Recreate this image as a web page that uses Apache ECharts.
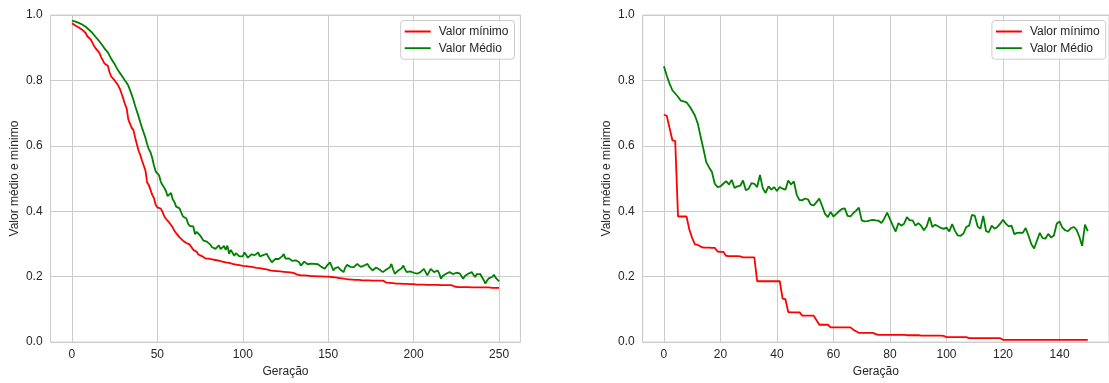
<!DOCTYPE html>
<html>
<head>
<meta charset="utf-8">
<script src="https://cdn.jsdelivr.net/npm/echarts@6/dist/echarts.min.js"></script>
<style>
  html, body { margin: 0; padding: 0; background: #ffffff; }
  #chart { width: 1109px; height: 383px; }
</style>
</head>
<body>
<div id="chart"></div>
<script>
// Run 1: 251 generations (0..250)
const minRun1 = [
  0.975, 0.972, 0.968, 0.965, 0.962, 0.958, 0.955, 0.953, 0.945, 0.935, 0.930,
  0.925, 0.915, 0.905, 0.897, 0.893, 0.885, 0.872, 0.862, 0.852, 0.848,
  0.845, 0.825, 0.812, 0.806, 0.800, 0.796, 0.785, 0.775, 0.760, 0.745,
  0.728, 0.715, 0.680, 0.675, 0.655, 0.648, 0.625, 0.605, 0.585, 0.572,
  0.555, 0.540, 0.525, 0.488, 0.480, 0.474, 0.450, 0.440, 0.420, 0.412,
  0.410, 0.408, 0.398, 0.385, 0.377, 0.372, 0.365, 0.358, 0.350, 0.340,
  0.333, 0.327, 0.320, 0.316, 0.310, 0.305, 0.303, 0.301, 0.298, 0.290,
  0.282, 0.281, 0.276, 0.268, 0.265, 0.263, 0.258, 0.256, 0.256, 0.255,
  0.254, 0.253, 0.252, 0.251, 0.250, 0.249, 0.248, 0.246, 0.245, 0.244,
  0.243, 0.242, 0.240, 0.239, 0.238, 0.237, 0.236, 0.235, 0.234, 0.233,
  0.232, 0.232, 0.231, 0.231, 0.230, 0.229, 0.228, 0.227, 0.226, 0.226,
  0.225, 0.224, 0.223, 0.222, 0.221, 0.219, 0.218, 0.218, 0.217, 0.217,
  0.216, 0.216, 0.216, 0.215, 0.215, 0.214, 0.213, 0.213, 0.212, 0.211,
  0.208, 0.206, 0.205, 0.204, 0.204, 0.204, 0.203, 0.203, 0.203, 0.202,
  0.202, 0.202, 0.202, 0.201, 0.201, 0.201, 0.200, 0.200, 0.200, 0.200,
  0.199, 0.199, 0.198, 0.198, 0.197, 0.196, 0.195, 0.195, 0.194, 0.193,
  0.192, 0.192, 0.191, 0.191, 0.191, 0.190, 0.190, 0.190, 0.190, 0.189,
  0.189, 0.189, 0.189, 0.189, 0.189, 0.188, 0.188, 0.188, 0.188, 0.188,
  0.188, 0.188, 0.184, 0.182, 0.181, 0.181, 0.180, 0.180, 0.180, 0.179,
  0.179, 0.179, 0.178, 0.178, 0.178, 0.178, 0.177, 0.177, 0.177, 0.177,
  0.177, 0.176, 0.176, 0.176, 0.176, 0.176, 0.175, 0.175, 0.175, 0.175,
  0.175, 0.175, 0.175, 0.175, 0.174, 0.174, 0.174, 0.174, 0.174, 0.174,
  0.174, 0.174, 0.172, 0.170, 0.169, 0.168, 0.168, 0.168, 0.168, 0.168,
  0.168, 0.168, 0.167, 0.167, 0.167, 0.167, 0.167, 0.167, 0.167, 0.167,
  0.167, 0.167, 0.167, 0.167, 0.166, 0.166, 0.166, 0.166, 0.166, 0.166
];
const meanRun1 = [
  0.983, 0.982, 0.980, 0.978, 0.976, 0.974, 0.971, 0.968, 0.964, 0.960, 0.955,
  0.950, 0.945, 0.939, 0.932, 0.926, 0.920, 0.913, 0.906, 0.898, 0.892,
  0.886, 0.876, 0.866, 0.858, 0.850, 0.840, 0.831, 0.823, 0.816, 0.808,
  0.800, 0.793, 0.784, 0.770, 0.756, 0.740, 0.722, 0.706, 0.690, 0.672,
  0.655, 0.640, 0.625, 0.605, 0.590, 0.580, 0.563, 0.540, 0.522, 0.522,
  0.510, 0.490, 0.480, 0.472, 0.462, 0.446, 0.448, 0.456, 0.436, 0.428,
  0.414, 0.410, 0.409, 0.396, 0.384, 0.382, 0.378, 0.362, 0.355, 0.356,
  0.354, 0.330, 0.337, 0.334, 0.326, 0.318, 0.310, 0.316, 0.307, 0.302,
  0.298, 0.290, 0.286, 0.285, 0.284, 0.296, 0.284, 0.290, 0.294, 0.282,
  0.295, 0.270, 0.282, 0.276, 0.264, 0.272, 0.268, 0.262, 0.265, 0.262,
  0.274, 0.266, 0.258, 0.262, 0.268, 0.262, 0.266, 0.272, 0.274, 0.262,
  0.258, 0.266, 0.262, 0.270, 0.260, 0.264, 0.244, 0.250, 0.254, 0.252,
  0.254, 0.249, 0.262, 0.269, 0.255, 0.249, 0.256, 0.254, 0.248, 0.244,
  0.250, 0.256, 0.244, 0.234, 0.240, 0.246, 0.244, 0.238, 0.234, 0.240,
  0.242, 0.239, 0.235, 0.238, 0.234, 0.230, 0.228, 0.224, 0.232, 0.238,
  0.244, 0.232, 0.219, 0.226, 0.232, 0.229, 0.222, 0.218, 0.214, 0.228,
  0.236, 0.239, 0.230, 0.226, 0.229, 0.234, 0.239, 0.236, 0.230, 0.229,
  0.234, 0.236, 0.239, 0.230, 0.226, 0.219, 0.224, 0.228, 0.229, 0.222,
  0.218, 0.214, 0.220, 0.222, 0.224, 0.228, 0.239, 0.222, 0.209, 0.214,
  0.219, 0.218, 0.226, 0.234, 0.222, 0.214, 0.218, 0.216, 0.214, 0.212,
  0.210, 0.209, 0.212, 0.214, 0.212, 0.224, 0.220, 0.204, 0.214, 0.224,
  0.218, 0.214, 0.218, 0.219, 0.210, 0.194, 0.202, 0.208, 0.209, 0.212,
  0.214, 0.210, 0.208, 0.209, 0.212, 0.214, 0.210, 0.205, 0.194, 0.202,
  0.206, 0.209, 0.212, 0.214, 0.206, 0.199, 0.208, 0.214, 0.208, 0.204,
  0.190, 0.179, 0.188, 0.195, 0.197, 0.199, 0.206, 0.197, 0.192, 0.186
];

// Run 2: 151 generations (0..150)
const minRun2 = [
  0.695, 0.692, 0.655, 0.617, 0.615, 0.384, 0.384, 0.384, 0.384, 0.344, 0.318,
  0.299, 0.297, 0.292, 0.289, 0.289, 0.289, 0.288, 0.288, 0.277, 0.276,
  0.276, 0.264, 0.263, 0.263, 0.263, 0.263, 0.262, 0.259, 0.259, 0.259,
  0.259, 0.259, 0.186, 0.186, 0.186, 0.186, 0.186, 0.186, 0.186, 0.186,
  0.186, 0.133, 0.131, 0.092, 0.091, 0.091, 0.091, 0.091, 0.081, 0.081,
  0.081, 0.081, 0.081, 0.067, 0.053, 0.053, 0.053, 0.053, 0.045, 0.045,
  0.045, 0.045, 0.045, 0.045, 0.045, 0.045, 0.038, 0.033, 0.028, 0.028,
  0.028, 0.028, 0.028, 0.028, 0.024, 0.022, 0.022, 0.022, 0.022, 0.022,
  0.022, 0.022, 0.022, 0.022, 0.022, 0.021, 0.021, 0.021, 0.021, 0.021,
  0.020, 0.020, 0.020, 0.020, 0.020, 0.020, 0.020, 0.020, 0.019, 0.015,
  0.015, 0.015, 0.015, 0.015, 0.015, 0.015, 0.015, 0.012, 0.012, 0.012,
  0.012, 0.012, 0.012, 0.012, 0.012, 0.012, 0.012, 0.012, 0.012, 0.007,
  0.007, 0.007, 0.007, 0.007, 0.007, 0.007, 0.007, 0.007, 0.007, 0.007,
  0.007, 0.007, 0.007, 0.007, 0.007, 0.007, 0.007, 0.007, 0.007, 0.007,
  0.007, 0.007, 0.007, 0.007, 0.007, 0.007, 0.007, 0.007, 0.007, 0.007
];
const meanRun2 = [
  0.843, 0.815, 0.790, 0.770, 0.760, 0.750, 0.738, 0.736, 0.733, 0.722, 0.708,
  0.692, 0.668, 0.628, 0.590, 0.550, 0.534, 0.520, 0.484, 0.474, 0.476,
  0.484, 0.492, 0.482, 0.496, 0.471, 0.476, 0.478, 0.494, 0.464, 0.469,
  0.486, 0.484, 0.474, 0.511, 0.470, 0.456, 0.476, 0.466, 0.474, 0.462,
  0.474, 0.469, 0.466, 0.494, 0.482, 0.491, 0.450, 0.434, 0.434, 0.439,
  0.436, 0.420, 0.418, 0.428, 0.439, 0.416, 0.392, 0.382, 0.398, 0.384,
  0.392, 0.400, 0.407, 0.409, 0.386, 0.384, 0.394, 0.402, 0.411, 0.372,
  0.369, 0.370, 0.372, 0.374, 0.372, 0.371, 0.364, 0.378, 0.396, 0.376,
  0.356, 0.338, 0.364, 0.356, 0.362, 0.382, 0.372, 0.372, 0.356, 0.364,
  0.356, 0.342, 0.354, 0.382, 0.352, 0.359, 0.354, 0.349, 0.346, 0.350,
  0.338, 0.361, 0.340, 0.326, 0.325, 0.332, 0.352, 0.356, 0.389, 0.386,
  0.354, 0.346, 0.386, 0.339, 0.336, 0.356, 0.347, 0.352, 0.362, 0.374,
  0.362, 0.354, 0.356, 0.330, 0.334, 0.335, 0.334, 0.349, 0.326, 0.300,
  0.286, 0.310, 0.334, 0.318, 0.316, 0.331, 0.320, 0.326, 0.362, 0.369,
  0.350, 0.342, 0.339, 0.348, 0.352, 0.344, 0.322, 0.294, 0.359, 0.339
];

const yTicks = [0, 0.2, 0.4, 0.6, 0.8, 1.0];
const seriesNames = ['Valor mínimo', 'Valor Médio'];
const xTitle = 'Geração';
const yTitle = 'Valor médio e mínimo';

const FONT = '"Liberation Sans", Arial, sans-serif';
const TEXT = '#262626';
const GRIDC = '#cccccc';
// Legend key: a plain horizontal stroke, padded to the full 26x12 item box
const LINE_ICON = 'path://M0,0L0.01,0Z M0,5.1L26,5.1L26,6.9L0,6.9Z M0,12L0.01,12Z';

function pairs(arr) { return arr.map((v, i) => [i, v]); }

function xAxisFor(gridIndex, lastGen, splitNumber) {
  const pad = lastGen * 0.05;
  return {
    type: 'value', gridIndex,
    min: -pad, max: lastGen + pad, splitNumber,
    name: xTitle, nameLocation: 'middle', nameGap: 22,
    nameTextStyle: { color: TEXT, fontSize: 12, fontFamily: FONT },
    axisLine: { show: false }, axisTick: { show: false },
    axisLabel: { color: TEXT, fontSize: 12, fontFamily: FONT, margin: 7,
                 showMinLabel: false, showMaxLabel: false },
    splitLine: { show: true, lineStyle: { color: GRIDC, width: 1 } }
  };
}
function yAxisFor(gridIndex) {
  return {
    type: 'value', gridIndex,
    min: yTicks[0], max: yTicks[yTicks.length - 1], interval: yTicks[1] - yTicks[0],
    name: yTitle, nameLocation: 'middle', nameGap: 30,
    nameTextStyle: { color: TEXT, fontSize: 12, fontFamily: FONT },
    axisLine: { show: false }, axisTick: { show: false },
    axisLabel: { color: TEXT, fontSize: 12, fontFamily: FONT, margin: 8,
                 formatter: v => v.toFixed(1) },
    splitLine: { show: true, lineStyle: { color: GRIDC, width: 1 } }
  };
}
function legendFor(right) {
  return {
    orient: 'vertical', right, top: 20.5,
    data: seriesNames.map(name => ({ name, icon: LINE_ICON })),
    itemWidth: 26, itemHeight: 12, itemGap: 4.7,
    padding: [5, 6, 5, 4],
    backgroundColor: 'rgba(255,255,255,0.8)',
    borderColor: GRIDC, borderWidth: 1, borderRadius: 3,
    textStyle: { color: TEXT, fontSize: 12, fontFamily: FONT, padding: [0, 0, 0, 3] },
    selectedMode: false
  };
}
function line(name, data, color, idx) {
  return {
    type: 'line', name, data: pairs(data),
    xAxisIndex: idx, yAxisIndex: idx,
    symbol: 'none', showSymbol: false,
    lineStyle: { color, width: 1.8 }, itemStyle: { color },
    emphasis: { disabled: true }, silent: true
  };
}

const chart = echarts.init(document.getElementById('chart'), null, { renderer: 'canvas' });
chart.setOption({
  backgroundColor: '#ffffff',
  animation: false,
  grid: [
    { left: 50.6, top: 15, width: 469.8, height: 332.7, show: true, borderColor: GRIDC, borderWidth: 1, containLabel: false },
    { left: 642.7, top: 15, width: 469.3, height: 332.7, show: true, borderColor: GRIDC, borderWidth: 1, containLabel: false }
  ],
  xAxis: [xAxisFor(0, 250, 5), xAxisFor(1, 150, 8)],
  yAxis: [yAxisFor(0), yAxisFor(1)],
  legend: [legendFor(594.5), legendFor(3.3)],
  series: [
    line(seriesNames[0], minRun1, '#ff0000', 0),
    line(seriesNames[1], meanRun1, '#008000', 0),
    line(seriesNames[0], minRun2, '#ff0000', 1),
    line(seriesNames[1], meanRun2, '#008000', 1)
  ]
});
</script>
</body>
</html>
